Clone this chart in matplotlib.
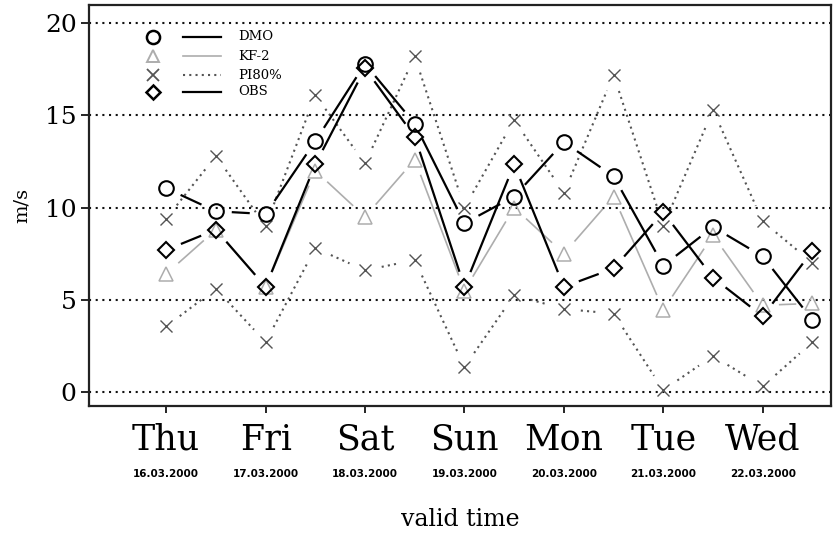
import numpy as np
import matplotlib
matplotlib.use("Agg")
import matplotlib.pyplot as plt

# forecast valid time in days from Thu 16.03.2000 00 UTC, 12-hourly
valid_t = [0.0, 0.5, 1.0, 1.5, 2.0, 2.5, 3.0, 3.5, 4.0, 4.5, 5.0, 5.5, 6.0, 6.5]
day_names = ["Thu", "Fri", "Sat", "Sun", "Mon", "Tue", "Wed"]
day_dates = ["16.03.2000", "17.03.2000", "18.03.2000", "19.03.2000",
             "20.03.2000", "21.03.2000", "22.03.2000"]
day_pos = [0, 1, 2, 3, 4, 5, 6]

# wind speed (m/s)
dmo = [11.05, 9.8, 9.65, 13.6, 17.8, 14.55, 9.15, 10.6, 13.55, 11.7, 6.85, 8.95, 7.35, 3.9]
kf2 = [6.4, 8.8, 5.7, 12.0, 9.5, 12.6, 5.5, 10.0, 7.5, 10.6, 4.45, 8.5, 4.7, 4.8]
pi80_hi = [9.4, 12.8, 9.0, 16.1, 12.4, 18.2, 10.0, 14.75, 10.8, 17.2, 9.0, 15.3, 9.25, 7.0]
pi80_lo = [3.55, 5.6, 2.7, 7.8, 6.6, 7.15, 1.35, 5.25, 4.5, 4.25, 0.1, 1.95, 0.3, 2.7]
obs = [7.7, 8.8, 5.7, 12.35, 17.55, 13.85, 5.7, 12.35, 5.7, 6.7, 9.75, 6.2, 4.1, 7.65]
y_ticks = [0, 5, 10, 15, 20]

SERIF = "DejaVu Serif"

fig = plt.figure(figsize=(8.33, 5.36), dpi=100)
ax = fig.add_axes([0.107, 0.242, 0.891, 0.749])
ax.set_xlim(-0.775, 6.69)
ax.set_ylim(-0.78, 21.0)

for s in ax.spines.values():
    s.set_linewidth(1.6)
    s.set_color("#222222")

ax.set_yticks(y_ticks)
ax.set_yticklabels([str(v) for v in y_ticks], family=SERIF, fontsize=18)
ax.tick_params(axis="y", length=6, width=1.2, pad=3)
ax.set_xticks(day_pos)
ax.set_xticklabels(day_names, family=SERIF, fontsize=25)
ax.tick_params(axis="x", length=5, width=1.2, pad=7)

for v in y_ticks:
    ax.axhline(v, color="#111111", lw=1.5, ls=(0, (1, 2.2)), zorder=1)


def gapped(ax, x, y, gap=17, **kw):
    # type="b" style: segments stop short of each point
    pts = ax.transData.transform(np.column_stack([x, y]))
    segs = []
    for (x0, y0), (x1, y1) in zip(pts[:-1], pts[1:]):
        d = np.hypot(x1 - x0, y1 - y0)
        if d <= 2 * gap:
            continue
        ux, uy = (x1 - x0) / d, (y1 - y0) / d
        segs += [(x0 + ux * gap, y0 + uy * gap), (x1 - ux * gap, y1 - uy * gap), (np.nan, np.nan)]
    data = ax.transData.inverted().transform(np.array(segs))
    ax.plot(data[:, 0], data[:, 1], **kw)


styles = {
    "DMO": dict(color="black", lw=1.6, ls="-", marker="o", ms=10.5, mew=1.5),
    "KF-2": dict(color="#adadad", lw=1.2, ls="-", marker="^", ms=10, mew=1.1),
    "PI80%": dict(color="#555555", lw=1.5, ls=(0, (1, 2)), marker="x", ms=9, mew=1.0),
    "OBS": dict(color="black", lw=1.6, ls="-", marker="D", ms=8, mew=1.5),
}

series = [("PI80%", pi80_hi), ("PI80%", pi80_lo), ("KF-2", kf2), ("OBS", obs), ("DMO", dmo)]
for name, vals in series:
    st = styles[name]
    gapped(ax, valid_t, vals, color=st["color"], lw=st["lw"], ls=st["ls"], zorder=2)
    ax.plot(valid_t, vals, ls="none", marker=st["marker"], ms=st["ms"], mew=st["mew"],
            mec=st["color"], mfc="none", zorder=3)

# legend: marker column, line column, label column
leg_rows = [0.920, 0.872, 0.825, 0.783]
for (name, st), yy in zip(styles.items(), leg_rows):
    ax.plot([0.086], [yy], transform=ax.transAxes, ls="none", marker=st["marker"],
            ms=st["ms"] * 0.9, mew=st["mew"] + 0.3, mec=st["color"], mfc="none", clip_on=False)
    ax.plot([0.127, 0.177], [yy, yy], transform=ax.transAxes, color=st["color"],
            lw=st["lw"], ls=st["ls"])
    ax.text(0.201, yy, name, transform=ax.transAxes, family=SERIF, fontsize=9.5,
            va="center", ha="left")

for xp, d in zip(day_pos, day_dates):
    ax.annotate(d, xy=(xp, 0), xycoords=("data", "axes fraction"), xytext=(0, -49),
                textcoords="offset points", ha="center", va="center",
                family="DejaVu Sans", fontweight="bold", fontsize=7.5)

ax.set_ylabel("m/s", family=SERIF, fontsize=14, labelpad=10)
ax.set_xlabel("valid time", family=SERIF, fontsize=17, labelpad=37)

fig.savefig("out.png", dpi=100)
